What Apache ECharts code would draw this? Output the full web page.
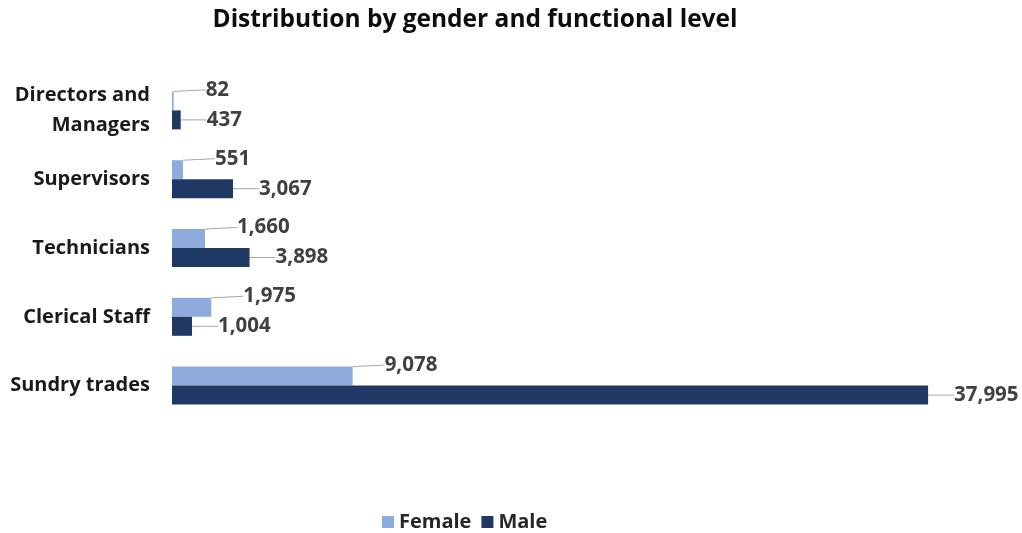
<!DOCTYPE html>
<html><head><meta charset="utf-8">
<script src="https://cdn.jsdelivr.net/npm/echarts@6/dist/echarts.min.js"></script>
<style>html,body{margin:0;padding:0;background:#fff}#c{width:1022px;height:533px}</style>
</head><body><div id="c"></div>
<script>
const categories = ['Directors and\nManagers', 'Supervisors', 'Technicians', 'Clerical Staff', 'Sundry trades'];
const female = [82, 551, 1660, 1975, 9078];
const male = [437, 3067, 3898, 1004, 37995];
const seriesNames = ['Female', 'Male'];

const chart = echarts.init(document.getElementById('c'));
const fmt = p => p.value.toLocaleString('en-US');
const font = 'Open Sans, Noto Sans, sans-serif';
chart.setOption({
  animation: false,
  title: { text: 'Distribution by gender and functional level', left: 470, top: 3, textAlign: 'center',
    textStyle: { fontFamily: font, fontSize: 24.5, fontWeight: 'bold', color: '#0d0d0d' } },
  legend: { top: 507, left: 377, itemWidth: 12, itemHeight: 12, itemGap: 10, icon: 'rect',
    textStyle: { fontFamily: font, fontSize: 20, fontWeight: 'bold', color: '#262626' } },
  grid: { left: 172, right: 54, top: 76, bottom: 113 },
  xAxis: { type: 'value', min: 0, max: 40000, show: false },
  yAxis: { type: 'category', data: categories, inverse: true,
    axisLine: { show: false }, axisTick: { show: false },
    axisLabel: { margin: 22, fontFamily: font, fontSize: 20, fontWeight: 'bold', color: '#1a1a1a', lineHeight: 30, align: 'right' } },
  series: [
    { name: seriesNames[0], type: 'bar', data: female, barWidth: 19, barGap: '0%', itemStyle: { color: '#8faadc' },
      label: { show: true, position: 'right', distance: 4, formatter: fmt, fontFamily: font, fontSize: 20.5, fontWeight: 'bold', color: '#404040' },
      labelLayout: { dx: 28, dy: -11 },
      labelLine: { show: true, lineStyle: { color: '#a6a6a6', width: 1 } } },
    { name: seriesNames[1], type: 'bar', data: male, barWidth: 19, itemStyle: { color: '#203864' },
      label: { show: true, position: 'right', distance: 4, formatter: fmt, fontFamily: font, fontSize: 20.5, fontWeight: 'bold', color: '#404040' },
      labelLayout: { dx: 22, dy: 0 },
      labelLine: { show: true, lineStyle: { color: '#a6a6a6', width: 1 } } }
  ]
});
</script></body></html>
